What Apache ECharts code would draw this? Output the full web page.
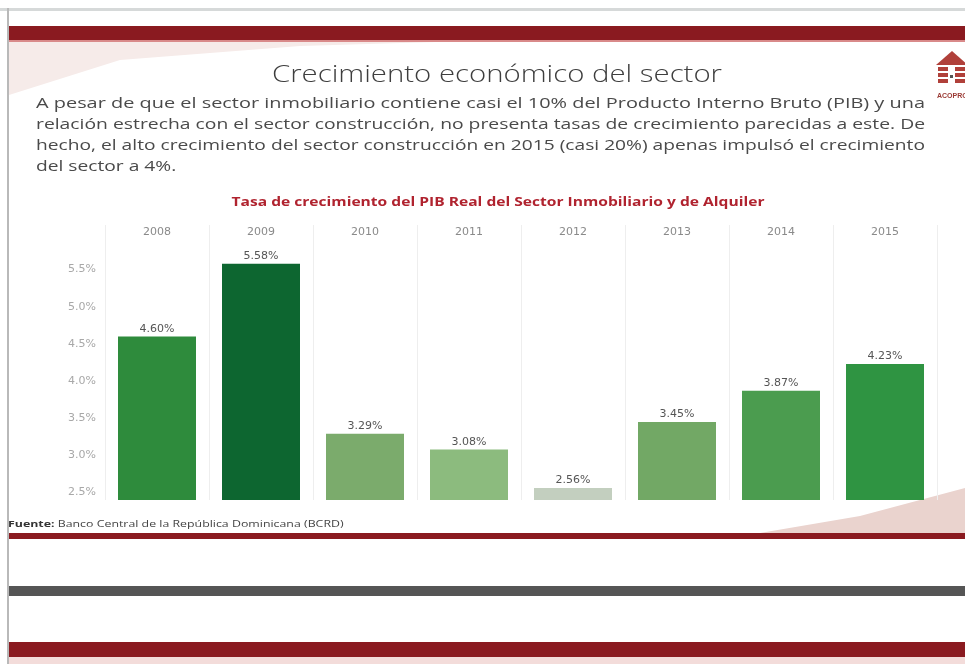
<!DOCTYPE html>
<html>
<head>
<meta charset="utf-8">
<script src="https://cdn.jsdelivr.net/npm/echarts@6/dist/echarts.min.js"></script>
<style>
  html, body { margin: 0; padding: 0; background: #ffffff; }
  #chart { width: 965px; height: 664px; }
</style>
</head>
<body>
<div id="chart"></div>
<script>
// Tasa de crecimiento del PIB real, sector inmobiliario y de alquiler (%)
const years = ['2008', '2009', '2010', '2011', '2012', '2013', '2014', '2015'];
const growth = [4.60, 5.58, 3.29, 3.08, 2.56, 3.45, 3.87, 4.23];
const barColors = ['#2e8b3c', '#0d6630', '#7bab6c', '#8cbb7e', '#c3cfbf', '#72a865', '#4b9c4f', '#2f9442'];
const yTicks = [2.5, 3.0, 3.5, 4.0, 4.5, 5.0, 5.5];

const pageTitle = 'Crecimiento económico del sector';
const paragraph = [
  'A pesar de que el sector inmobiliario contiene casi el 10% del Producto Interno Bruto (PIB) y una',
  'relación estrecha con el sector construcción, no presenta tasas de crecimiento parecidas a este. De',
  'hecho, el alto crecimiento del sector construcción en 2015 (casi 20%) apenas impulsó el crecimiento',
  'del sector a 4%.'
];
const chartTitle = 'Tasa de crecimiento del PIB Real del Sector Inmobiliario y de Alquiler';
const sourceLabel = 'Fuente:';
const sourceText = ' Banco Central de la República Dominicana (BCRD)';

const RED = '#8a1a20';
const textFont = '"Open Sans", "Noto Sans", sans-serif';
const axisFont = '"DejaVu Sans", sans-serif';

// width of a string in a given canvas font, used to stretch lines to the column width
const measureCtx = document.createElement('canvas').getContext('2d');
function textWidth(str, font) {
  measureCtx.font = font;
  return measureCtx.measureText(str).width;
}

const chart = echarts.init(document.getElementById('chart'), null, { renderer: 'canvas' });

const titleFont = '300 24px ' + textFont;
const chartTitleFont = 'bold 12px ' + textFont;
const bodyFont = '15px ' + textFont;

const decorations = [
  // top window edge
  { type: 'rect', shape: { x: 0, y: 8, width: 965, height: 3 }, style: { fill: '#d6d9d9' }, silent: true },
  { type: 'rect', shape: { x: 7, y: 8, width: 2, height: 656 }, style: { fill: '#b9b9b9' }, silent: true },
  // soft swoosh under the header band
  { type: 'polygon', shape: { points: [[9, 41], [470, 41], [300, 46], [120, 60], [9, 95]] }, style: { fill: '#f6ebe9' }, silent: true },
  { type: 'rect', shape: { x: 9, y: 26, width: 956, height: 16 }, style: { fill: RED }, silent: true },
  { type: 'rect', shape: { x: 9, y: 40, width: 956, height: 2 }, style: { fill: '#d98a8a' }, silent: true },
  // swoosh at the lower right
  { type: 'polygon', shape: { points: [[760, 533], [860, 516], [965, 488], [965, 533]] }, style: { fill: '#ead3ce' }, silent: true },
  // lower bands
  { type: 'rect', shape: { x: 9, y: 533, width: 956, height: 6 }, style: { fill: RED }, silent: true },
  { type: 'rect', shape: { x: 9, y: 586, width: 956, height: 10 }, style: { fill: '#555555' }, silent: true },
  { type: 'rect', shape: { x: 9, y: 642, width: 956, height: 15 }, style: { fill: RED }, silent: true },
  { type: 'rect', shape: { x: 9, y: 657, width: 956, height: 7 }, style: { fill: '#f3dcda' }, silent: true },
  // logo: house with stripes
  { type: 'polygon', shape: { points: [[936, 65], [952, 51], [968, 65]] }, style: { fill: '#b0403a' }, silent: true },
  { type: 'rect', shape: { x: 938, y: 67, width: 28, height: 4 }, style: { fill: '#b0403a' }, silent: true },
  { type: 'rect', shape: { x: 938, y: 73, width: 28, height: 4 }, style: { fill: '#b0403a' }, silent: true },
  { type: 'rect', shape: { x: 938, y: 79, width: 28, height: 4 }, style: { fill: '#b0403a' }, silent: true },
  { type: 'rect', shape: { x: 948, y: 66, width: 7, height: 18 }, style: { fill: '#ffffff' }, silent: true },
  { type: 'rect', shape: { x: 950, y: 75, width: 3, height: 3 }, style: { fill: '#555555' }, silent: true },
  { type: 'text', x: 937, y: 96, style: { text: 'ACOPROV', font: 'bold 7px "Liberation Sans", sans-serif', fill: '#9b3a34', verticalAlign: 'middle' }, silent: true },
  // headings
  { type: 'text', x: 497, y: 75, scaleX: 450 / textWidth(pageTitle, titleFont),
    style: { text: pageTitle, font: titleFont, fill: '#3e3e3e', align: 'center', verticalAlign: 'middle' }, silent: true },
  { type: 'text', x: 498, y: 203, scaleX: 533 / textWidth(chartTitle, chartTitleFont),
    style: { text: chartTitle, font: chartTitleFont, fill: '#b0232f', align: 'center', verticalAlign: 'middle' }, silent: true },
  { type: 'text', x: 8, y: 524, scaleX: 1.3,
    style: { rich: { b: { font: 'bold 9.5px ' + textFont, fill: '#333333' }, n: { font: '9.5px ' + textFont, fill: '#444444' } },
      text: '{b|' + sourceLabel + '}{n|' + sourceText + '}', verticalAlign: 'middle' }, silent: true }
];

// body paragraph, justified to the column width (last line keeps the same stretch)
const columnWidth = 889;
const stretches = paragraph.map(function (line) { return columnWidth / textWidth(line, bodyFont); });
paragraph.forEach(function (line, i) {
  const last = i === paragraph.length - 1;
  decorations.push({
    type: 'text', x: 36, y: 104 + i * 21,
    scaleX: last ? stretches[i - 1] : stretches[i],
    style: { text: line, font: bodyFont, fill: '#4a4a4a', verticalAlign: 'middle' },
    silent: true
  });
});

chart.setOption({
  backgroundColor: '#ffffff',
  animation: false,
  grid: { left: 105, right: 28, top: 225, bottom: 164 },
  xAxis: {
    type: 'category',
    data: years,
    position: 'top',
    axisLine: { show: false },
    axisTick: { show: false },
    axisLabel: { inside: true, margin: 2, color: '#8a8a8a', fontSize: 11, fontFamily: axisFont },
    splitLine: { show: true, lineStyle: { color: '#eeeeee', width: 1 } }
  },
  yAxis: {
    type: 'value',
    min: 2.4,
    max: 6.1,
    axisLine: { show: false },
    axisTick: { show: false },
    splitLine: { show: false },
    axisLabel: {
      customValues: yTicks,
      margin: 9,
      color: '#a8a8a8',
      fontSize: 11,
      fontFamily: axisFont,
      formatter: function (v) { return v.toFixed(1) + '%'; }
    }
  },
  series: [{
    type: 'bar',
    barWidth: '75%',
    data: growth.map(function (v, i) { return { value: v, itemStyle: { color: barColors[i] } }; }),
    label: {
      show: true,
      position: 'top',
      distance: 2,
      color: '#555555',
      fontSize: 11,
      fontFamily: axisFont,
      formatter: function (p) { return p.value.toFixed(2) + '%'; }
    }
  }],
  graphic: { elements: decorations }
});
</script>
</body>
</html>
